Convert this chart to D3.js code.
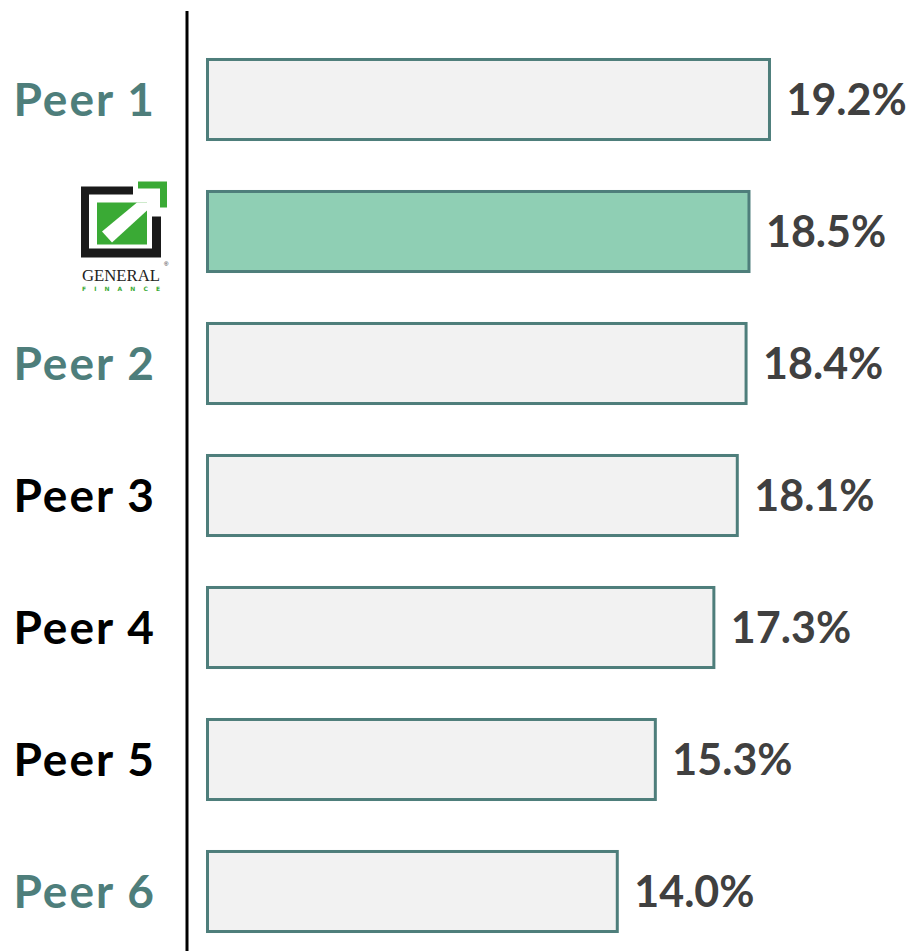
<!DOCTYPE html>
<html>
<head>
<meta charset="utf-8">
<script src="https://cdn.jsdelivr.net/npm/d3@7"></script>
<style>
  html, body { margin: 0; padding: 0; background: #fff; }
  svg { display: block; }
  text { font-family: Lato, "Open Sans", sans-serif; font-weight: 700; }
</style>
</head>
<body>
<div id="vis"></div>
<script>
(function() {
  var categories = ['Peer 1', 'General Finance', 'Peer 2', 'Peer 3', 'Peer 4', 'Peer 5', 'Peer 6'];
  var values = [19.2, 18.5, 18.4, 18.1, 17.3, 15.3, 14.0];
  var labelColors = ['#4e7e7b', null, '#4e7e7b', '#000000', '#000000', '#000000', '#4e7e7b'];
  var highlight = [false, true, false, false, false, false, false];

  var W = 910, H = 951;
  var TEAL = '#4e7e7b';

  var svg = d3.select('#vis').append('svg').attr('width', W).attr('height', H);

  var x = d3.scaleLinear().domain([0, 20]).range([207.5, 207.5 + 585.4]);
  var y = d3.scaleBand().domain(categories).range([33.5, 957.5])
    .paddingInner(0.371).paddingOuter(0.1855);

  // vertical axis line
  svg.append('line')
    .attr('x1', 187).attr('x2', 187)
    .attr('y1', 11).attr('y2', H)
    .attr('stroke', '#000').attr('stroke-width', 3);

  var rows = categories.map(function(c, i) {
    return { name: c, value: values[i], color: labelColors[i], hi: highlight[i] };
  });

  svg.append('g').selectAll('rect').data(rows).enter().append('rect')
    .attr('x', x(0))
    .attr('y', function(d) { return y(d.name) + 1.5; })
    .attr('width', function(d) { return x(d.value) - x(0); })
    .attr('height', y.bandwidth() - 3)
    .attr('fill', function(d) { return d.hi ? '#8fcfb4' : '#f2f2f2'; })
    .attr('stroke', TEAL)
    .attr('stroke-width', 3);

  svg.append('g').selectAll('text').data(rows).enter().append('text')
    .attr('x', function(d) { return x(d.value) + 17; })
    .attr('y', function(d) { return y(d.name) + y.bandwidth() / 2; })
    .attr('dy', '0.36em')
    .attr('fill', '#404040')
    .style('font-size', '43px')
    .text(function(d) { return d.value.toFixed(1) + '%'; });

  svg.append('g').selectAll('text').data(rows.filter(function(d) { return !d.hi; })).enter().append('text')
    .attr('x', 156)
    .attr('y', function(d) { return y(d.name) + y.bandwidth() / 2; })
    .attr('dy', '0.36em')
    .attr('text-anchor', 'end')
    .attr('fill', function(d) { return d.color; })
    .style('font-size', '46px')
    .style('letter-spacing', '2px')
    .text(function(d) { return d.name; });

  // General Finance logo
  var gy = y('General Finance') + y.bandwidth() / 2;
  var logo = svg.append('g').attr('transform', 'translate(81,' + (gy - 50) + ')');
  var green = '#3aaa35';
  logo.append('path').attr('fill', '#1a1a1a')
    .attr('d', 'M0,5 H52 V13 H8 V67 H71 V35 H80 V76 H0 Z');
  logo.append('path').attr('fill', green)
    .attr('d', 'M57,0 H86 V26 H79 V7 H57 Z');
  logo.append('path').attr('fill', green)
    .attr('d', 'M16,21 H66 V63 H16 Z');
  logo.append('path').attr('fill', '#fff')
    .attr('d', 'M21,50 L56,21 L66,21 L66,29 L31,61 Z');
  logo.append('text').attr('x', 1).attr('y', 99.5)
    .attr('textLength', 78).attr('lengthAdjust', 'spacingAndGlyphs')
    .style('font-family', '"Liberation Serif", serif').style('font-weight', 400)
    .style('font-size', '17px').attr('fill', '#222').text('GENERAL');
  logo.append('text').attr('x', 83).attr('y', 84)
    .style('font-family', '"Liberation Sans", sans-serif').style('font-weight', 400)
    .style('font-size', '6px').attr('fill', '#222').text('®');
  logo.append('text').attr('x', 1).attr('y', 109)
    .attr('textLength', 78).attr('lengthAdjust', 'spacing')
    .style('font-family', '"DejaVu Sans", sans-serif').style('font-weight', 700)
    .style('font-size', '6px').attr('fill', green).text('FINANCE');
})();
</script>
</body>
</html>
